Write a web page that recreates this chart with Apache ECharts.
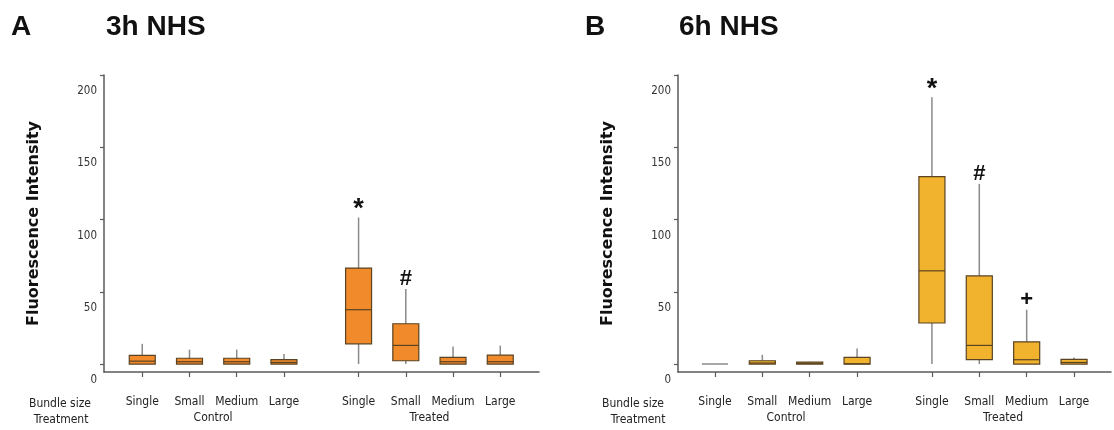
<!DOCTYPE html>
<html>
<head>
<meta charset="utf-8">
<script src="https://cdn.jsdelivr.net/npm/echarts@6/dist/echarts.min.js"></script>
<style>
html, body { margin: 0; padding: 0; background: #fff; }
#chart { width: 1114px; height: 430px; }
</style>
</head>
<body>
<div id="chart"></div>
<script>
// categories: bundle size, x positions (treated group set apart a bit)
const bundles = ['Single', 'Small', 'Medium', 'Large', 'Single', 'Small', 'Medium', 'Large'];
const positions = [1, 2, 3, 4, 5.58, 6.58, 7.58, 8.58];
const groups = ['Control', 'Treated'];
const groupPositions = [2.5, 7.08];
const yTicks = [0, 50, 100, 150, 200];

// [lower whisker, Q1, median, Q3, upper whisker]
const nhs3h = [
    [0, 0, 2, 6, 14],
    [0, 0, 1.6, 4, 10],
    [0, 0, 1.6, 4, 10],
    [0, 0, 1.1, 3, 7],
    [0, 14, 37.6, 66.4, 101.4],
    [0, 2.3, 12.9, 27.9, 52],
    [0, 0, 1.6, 4.6, 12.2],
    [0, 0, 1.6, 6.2, 12.7]
];
const nhs6h = [
    [0, 0, 0, 0, 0],
    [0, 0, 0.7, 2.3, 6.4],
    [0, 0, 0.5, 1.4, 1.6],
    [0, 0, 0.2, 4.6, 10.8],
    [0, 28.4, 64.5, 129.7, 184.6],
    [0, 3, 12.9, 61, 124.7],
    [0, 0, 3, 15.4, 37.6],
    [0, 0, 1.1, 3.2, 4.6]
];
const marks3h = ['', '', '', '', '*', '#', '', ''];
const marks6h = ['', '', '', '', '*', '#', '+', ''];

const smallFont = "'DejaVu Sans Condensed', 'DejaVu Sans', sans-serif";
const axisColor = '#5a5a5a';

function findLabel(list, pos, v) {
    let i = pos.findIndex(p => Math.abs(p - v) < 1e-6);
    return i < 0 ? '' : list[i];
}

function boxItem(color, marks) {
    return function (params, api) {
        let x = api.value(0);
        let low = api.coord([x, api.value(1)]);
        let q1 = api.coord([x, api.value(2)]);
        let med = api.coord([x, api.value(3)]);
        let q3 = api.coord([x, api.value(4)]);
        let high = api.coord([x, api.value(5)]);
        let half = api.size([0.55, 0])[0] / 2;
        let cx = low[0];
        let flat = q1[1] - q3[1] < 1;
        let children = [
            { type: 'line', shape: { x1: cx, y1: high[1], x2: cx, y2: q3[1] }, style: { stroke: '#8a8a8a', lineWidth: 1.5 } },
            { type: 'line', shape: { x1: cx, y1: q1[1], x2: cx, y2: low[1] }, style: { stroke: '#8a8a8a', lineWidth: 1.5 } },
            {
                type: 'rect',
                shape: { x: cx - half, y: q3[1], width: half * 2, height: q1[1] - q3[1] },
                style: { fill: color, stroke: flat ? '#8a8a8a' : '#5a4322', lineWidth: flat ? 1.5 : 1.2 }
            }
        ];
        if (!flat) {
            children.push({ type: 'line', shape: { x1: cx - half, y1: med[1], x2: cx + half, y2: med[1] }, style: { stroke: '#5a4322', lineWidth: 1.2 } });
        }
        let mark = marks[params.dataIndex];
        if (mark) {
            // the asterisk glyph sits high, so it gets a bigger size and is nudged down
            let star = mark === '*';
            children.push({
                type: 'text', x: cx, y: high[1] + (star ? 6 : 1),
                style: {
                    text: mark, align: 'center', verticalAlign: 'bottom', fill: '#111',
                    font: 'bold ' + (star ? 27 : 22) + 'px "Liberation Sans", Arial, sans-serif'
                }
            });
        }
        return { type: 'group', children: children };
    };
}

function xAxes(gi, min, max) {
    return [
        {
            gridIndex: gi, type: 'value', min: min, max: max, position: 'bottom',
            axisLine: { show: true, onZero: false, lineStyle: { color: axisColor, width: 1.5 } },
            axisTick: { show: true, customValues: positions, length: 5, lineStyle: { color: axisColor, width: 1.2 } },
            axisLabel: {
                customValues: positions, margin: 24, fontSize: 12, color: '#222', fontFamily: smallFont,
                formatter: v => findLabel(bundles, positions, v)
            },
            splitLine: { show: false }
        },
        {
            gridIndex: gi, type: 'value', min: min, max: max, position: 'bottom',
            axisLine: { show: false, onZero: false }, axisTick: { show: false },
            axisLabel: {
                customValues: groupPositions, margin: 40, fontSize: 12, color: '#222', fontFamily: smallFont,
                formatter: v => findLabel(groups, groupPositions, v)
            },
            splitLine: { show: false }
        }
    ];
}

function yAxis(gi) {
    return {
        gridIndex: gi, type: 'value', min: -5.5, max: 200,
        name: 'Fluorescence Intensity', nameLocation: 'middle', nameGap: 62, nameRotate: 90,
        nameTextStyle: { fontWeight: 'bold', fontSize: 16, fontFamily: "'DejaVu Sans', sans-serif", color: '#111' },
        axisLine: { show: true, onZero: false, lineStyle: { color: axisColor, width: 1.5 } },
        axisTick: { show: true, customValues: yTicks, length: 4, lineStyle: { color: axisColor, width: 1.2 } },
        axisLabel: {
            customValues: yTicks, margin: 7, fontSize: 11.5, color: '#333', fontFamily: smallFont,
            verticalAlign: 'top', padding: [10, 0, 0, 0]
        },
        splitLine: { show: false }
    };
}

let myChart = echarts.init(document.getElementById('chart'));
let titleFont = 'bold 28px "Liberation Sans", Arial, sans-serif';
let option = {
    backgroundColor: '#fff',
    animation: false,
    grid: [
        { left: 104, top: 75, width: 435, height: 297 },
        { left: 678, top: 75, width: 433, height: 297 }
    ],
    xAxis: xAxes(0, 0.19, 9.40).concat(xAxes(1, 0.22, 9.36)),
    yAxis: [yAxis(0), yAxis(1)],
    graphic: [
        { type: 'text', x: 11, y: 27, style: { text: 'A', font: titleFont, fill: '#111', verticalAlign: 'middle' } },
        { type: 'text', x: 106, y: 27, style: { text: '3h NHS', font: titleFont, fill: '#111', verticalAlign: 'middle' } },
        { type: 'text', x: 585, y: 27, style: { text: 'B', font: titleFont, fill: '#111', verticalAlign: 'middle' } },
        { type: 'text', x: 679, y: 27, style: { text: '6h NHS', font: titleFont, fill: '#111', verticalAlign: 'middle' } },
        { type: 'text', x: 60, y: 404, style: { text: 'Bundle size', font: '12px ' + smallFont, fill: '#222', align: 'center', verticalAlign: 'middle' } },
        { type: 'text', x: 61, y: 420, style: { text: 'Treatment', font: '12px ' + smallFont, fill: '#222', align: 'center', verticalAlign: 'middle' } },
        { type: 'text', x: 633, y: 404, style: { text: 'Bundle size', font: '12px ' + smallFont, fill: '#222', align: 'center', verticalAlign: 'middle' } },
        { type: 'text', x: 638, y: 420, style: { text: 'Treatment', font: '12px ' + smallFont, fill: '#222', align: 'center', verticalAlign: 'middle' } }
    ],
    series: [
        {
            name: '3h NHS', type: 'custom', xAxisIndex: 0, yAxisIndex: 0,
            renderItem: boxItem('#F08A2A', marks3h),
            encode: { x: 0, y: [1, 2, 3, 4, 5] },
            data: positions.map((p, i) => [p].concat(nhs3h[i]))
        },
        {
            name: '6h NHS', type: 'custom', xAxisIndex: 2, yAxisIndex: 1,
            renderItem: boxItem('#F1B22E', marks6h),
            encode: { x: 0, y: [1, 2, 3, 4, 5] },
            data: positions.map((p, i) => [p].concat(nhs6h[i]))
        }
    ]
};
myChart.setOption(option);
window.addEventListener('resize', function () {
    myChart.resize();
});
</script>
</body>
</html>
